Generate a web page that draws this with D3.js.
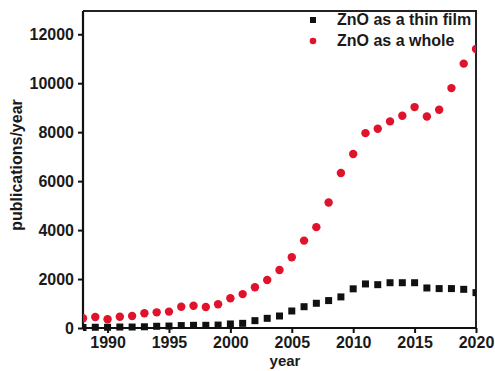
<!DOCTYPE html>
<html>
<head>
<meta charset="utf-8">
<script src="https://cdn.jsdelivr.net/npm/d3@7"></script>
<style>
  html, body { margin: 0; padding: 0; background: #fff; }
  svg text { font-family: "Liberation Sans", Arial, sans-serif; font-weight: bold; fill: #1a1a1a; }
</style>
</head>
<body>
<svg id="chart" width="495" height="371"></svg>
<script>
// Publication counts per year
const years = [1988, 1989, 1990, 1991, 1992, 1993, 1994, 1995, 1996, 1997, 1998, 1999,
  2000, 2001, 2002, 2003, 2004, 2005, 2006, 2007, 2008, 2009, 2010,
  2011, 2012, 2013, 2014, 2015, 2016, 2017, 2018, 2019, 2020];
const thinFilm = [20, 30, 30, 40, 40, 50, 70, 80, 100, 110, 110, 120,
  165, 190, 300, 395, 490, 695, 870, 1010, 1120, 1270, 1600,
  1800, 1770, 1850, 1850, 1850, 1635, 1610, 1610, 1580, 1445];
const whole = [400, 450, 355, 460, 490, 600, 640, 670, 870, 910, 860, 970,
  1215, 1385, 1665, 1960, 2370, 2890, 3570, 4120, 5125, 6330, 7110,
  7960, 8140, 8440, 8670, 9025, 8640, 8915, 9800, 10800, 11400];
const xTicks = [1990, 1995, 2000, 2005, 2010, 2015, 2020];
const yTicks = [0, 2000, 4000, 6000, 8000, 10000, 12000];
const seriesNames = ["ZnO as a thin film", "ZnO as a whole"];

const svg = d3.select("#chart");
const plot = { left: 83, right: 476, top: 11, bottom: 328 };

const x = d3.scaleLinear().domain([1988, 2020]).range([plot.left, plot.right]);
const y = d3.scaleLinear().domain([0, 12950]).range([plot.bottom, plot.top]);

const red = "#e0132c";

svg.append("defs").append("clipPath").attr("id", "plotclip")
  .append("rect")
  .attr("x", plot.left).attr("y", plot.top)
  .attr("width", plot.right - plot.left).attr("height", plot.bottom - plot.top + 4);

// frame (top and right)
svg.append("path")
  .attr("d", `M${plot.left},${plot.top}H${plot.right}V${plot.bottom}`)
  .attr("fill", "none").attr("stroke", "#222").attr("stroke-width", 2);

// axes
const xAxis = svg.append("g")
  .attr("transform", `translate(0,${plot.bottom})`)
  .call(d3.axisBottom(x).tickValues(xTicks).tickFormat(d3.format("d")).tickSize(5).tickPadding(4));
const yAxis = svg.append("g")
  .attr("transform", `translate(${plot.left},0)`)
  .call(d3.axisLeft(y).tickValues(yTicks).tickFormat(d3.format("d")).tickSize(5).tickPadding(4));

[xAxis, yAxis].forEach(g => {
  g.select(".domain").attr("stroke", "#111").attr("stroke-width", 2.2);
  g.selectAll(".tick line").attr("stroke", "#111").attr("stroke-width", 2);
  g.selectAll(".tick text").style("font-size", "16px").attr("fill", "#1a1a1a");
});
xAxis.select(".domain").attr("d", `M${plot.left},0H${plot.right}`);
yAxis.select(".domain").attr("d", `M0,${plot.bottom}V${plot.top}`);

// data markers
const marks = svg.append("g").attr("clip-path", "url(#plotclip)");

marks.selectAll("circle.whole")
  .data(years.map((yr, i) => ({ yr, v: whole[i] })))
  .join("circle")
  .attr("class", "whole")
  .attr("cx", d => x(d.yr))
  .attr("cy", d => y(d.v))
  .attr("r", 4.2)
  .attr("fill", red);

const sq = 7;
marks.selectAll("rect.thin")
  .data(years.map((yr, i) => ({ yr, v: thinFilm[i] })))
  .join("rect")
  .attr("class", "thin")
  .attr("x", d => x(d.yr) - sq / 2)
  .attr("y", d => y(d.v) - sq / 2)
  .attr("width", sq)
  .attr("height", sq)
  .attr("fill", "#111");

// legend
const legend = svg.append("g");
legend.append("rect").attr("x", 310).attr("y", 17).attr("width", 6).attr("height", 6).attr("fill", "#111");
legend.append("circle").attr("cx", 313).attr("cy", 41).attr("r", 3.3).attr("fill", red);
legend.append("text").attr("x", 337).attr("y", 25).style("font-size", "16px").text(seriesNames[0]);
legend.append("text").attr("x", 337).attr("y", 46).style("font-size", "16px").text(seriesNames[1]);

// axis titles
svg.append("text")
  .attr("x", 285).attr("y", 366)
  .attr("text-anchor", "middle")
  .style("font-size", "15px")
  .text("year");

svg.append("text")
  .attr("transform", "translate(22,165) rotate(-90)")
  .attr("text-anchor", "middle")
  .style("font-size", "16px")
  .text("publications/year");
</script>
</body>
</html>
